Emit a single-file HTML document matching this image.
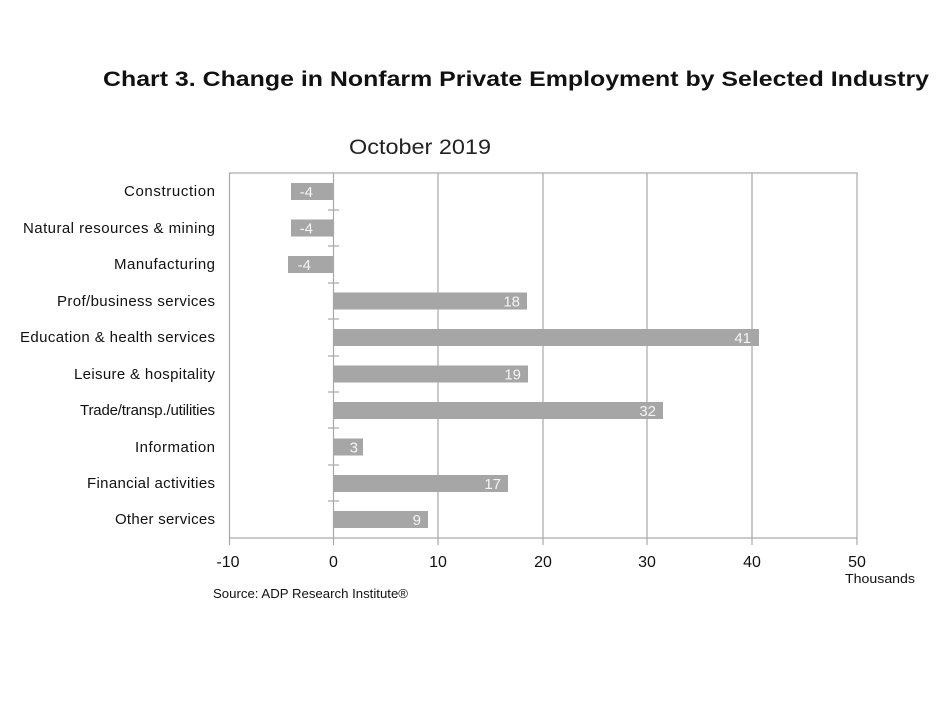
<!DOCTYPE html>
<html><head><style>body{margin:0;background:#fff}</style></head><body>
<svg width="949" height="712" xmlns="http://www.w3.org/2000/svg" font-family="Liberation Sans, sans-serif">
<rect width="949" height="712" fill="#fff"/>
<text x="103" y="86" font-size="21" font-weight="bold" textLength="826" lengthAdjust="spacingAndGlyphs" fill="#111">Chart 3. Change in Nonfarm Private Employment by Selected Industry</text>
<text x="349" y="154" font-size="21" textLength="142" lengthAdjust="spacingAndGlyphs" fill="#222">October 2019</text>
<g stroke="#a8a8a8" stroke-width="1.2" fill="none">
<rect x="229.5" y="173" width="627.5" height="365"/>
<line x1="438" y1="173" x2="438" y2="538"/>
<line x1="543" y1="173" x2="543" y2="538"/>
<line x1="647" y1="173" x2="647" y2="538"/>
<line x1="752" y1="173" x2="752" y2="538"/>
<line x1="333.5" y1="173" x2="333.5" y2="545"/>
<line x1="229.5" y1="538" x2="229.5" y2="545"/>
<line x1="857" y1="538" x2="857" y2="545"/>
<line x1="438" y1="538" x2="438" y2="545"/><line x1="543" y1="538" x2="543" y2="545"/><line x1="647" y1="538" x2="647" y2="545"/><line x1="752" y1="538" x2="752" y2="545"/>
<line x1="328" y1="210" x2="339" y2="210"/><line x1="328" y1="246" x2="339" y2="246"/><line x1="328" y1="283" x2="339" y2="283"/><line x1="328" y1="319" x2="339" y2="319"/><line x1="328" y1="356" x2="339" y2="356"/><line x1="328" y1="392" x2="339" y2="392"/><line x1="328" y1="428" x2="339" y2="428"/><line x1="328" y1="465" x2="339" y2="465"/><line x1="328" y1="501" x2="339" y2="501"/>
</g>
<g fill="#a6a6a6">
<rect x="291" y="183" width="42.5" height="17"/>
<rect x="291" y="219.5" width="42.5" height="17"/>
<rect x="288" y="256" width="45.5" height="17"/>
<rect x="333.5" y="292.5" width="193.5" height="17"/>
<rect x="333.5" y="329" width="425.5" height="17"/>
<rect x="333.5" y="365.5" width="194.5" height="17"/>
<rect x="333.5" y="402" width="329.5" height="17"/>
<rect x="333.5" y="438.5" width="29.5" height="17"/>
<rect x="333.5" y="475" width="174.5" height="17"/>
<rect x="333.5" y="511" width="94.5" height="17"/>
</g>
<g fill="#f4f4f4" font-size="15" text-anchor="end">
<text x="313" y="197">-4</text><text x="313" y="233.5">-4</text><text x="311" y="270">-4</text>
<text x="520" y="306.5">18</text><text x="751" y="343">41</text><text x="521" y="379.5">19</text>
<text x="656" y="416">32</text><text x="358" y="452.5">3</text><text x="501" y="489">17</text><text x="421" y="525">9</text>
</g>
<g fill="#111" font-size="15" lengthAdjust="spacingAndGlyphs">
<text x="124" y="196" textLength="91">Construction</text>
<text x="23" y="233" textLength="192">Natural resources &amp; mining</text>
<text x="114" y="269" textLength="101">Manufacturing</text>
<text x="57" y="306" textLength="158">Prof/business services</text>
<text x="20" y="342" textLength="195">Education &amp; health services</text>
<text x="74" y="379" textLength="141">Leisure &amp; hospitality</text>
<text x="80" y="415" textLength="135">Trade/transp./utilities</text>
<text x="135" y="452" textLength="80">Information</text>
<text x="87" y="488" textLength="128">Financial activities</text>
<text x="115" y="524" textLength="100">Other services</text>
</g>
<g fill="#111" font-size="16" text-anchor="middle">
<text x="228" y="567">-10</text><text x="333.5" y="567">0</text><text x="438" y="567">10</text><text x="543" y="567">20</text><text x="647" y="567">30</text><text x="752" y="567">40</text><text x="857" y="567">50</text>
</g>
<text x="845" y="583" font-size="13" textLength="70" lengthAdjust="spacingAndGlyphs" fill="#111">Thousands</text>
<text x="213" y="598" font-size="13" textLength="195" lengthAdjust="spacingAndGlyphs" fill="#111">Source: ADP Research Institute®</text>
</svg>
</body></html>
